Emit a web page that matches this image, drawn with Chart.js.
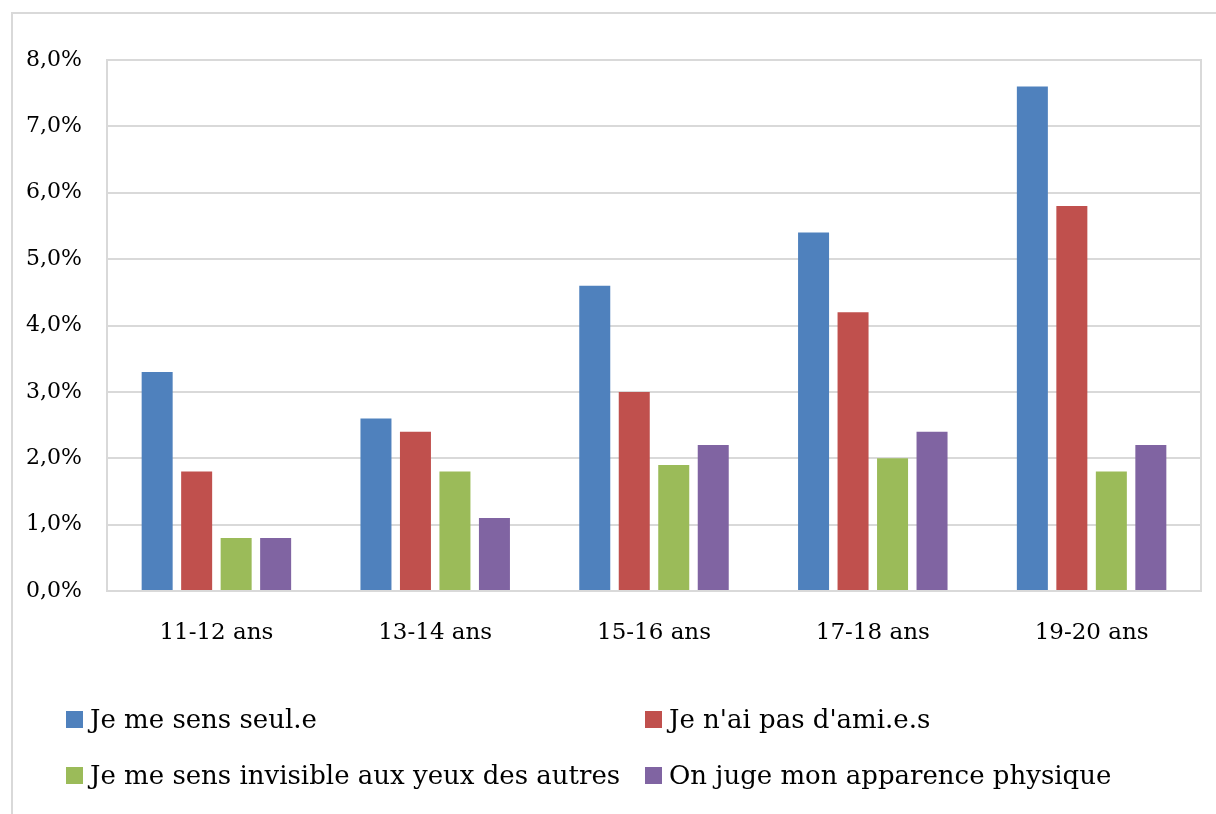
<!DOCTYPE html>
<html>
<head>
<meta charset="utf-8">
<script src="https://cdn.jsdelivr.net/npm/chart.js@4"></script>
<style>
  body { margin: 0; background: #fff; }
  #wrap { position: relative; width: 1216px; height: 814px; overflow: hidden; }
  #frame { position: absolute; left: 11px; top: 12px; width: 1300px; height: 900px;
           border-left: 2px solid #d9d9d9; border-top: 2px solid #d9d9d9; }
  #legend { position: absolute; left: 66px; top: 703px; width: 1100px;
            font-family: "DejaVu Serif", serif; font-size: 26px; color: #000; }
  .item { position: absolute; white-space: nowrap; line-height: 32px; }
  .box { display: inline-block; width: 17px; height: 17px; margin-right: 7px; vertical-align: 0px; }
</style>
</head>
<body>
<div id="wrap">
  <div id="frame"></div>
  <canvas id="chart" width="1216" height="814"></canvas>
  <div id="legend"></div>
</div>
<script>
// ---- data ----
var ageGroups  = ["11-12 ans", "13-14 ans", "15-16 ans", "17-18 ans", "19-20 ans"];
var seriesNames = [
  "Je me sens seul.e",
  "Je n'ai pas d'ami.e.s",
  "Je me sens invisible aux yeux des autres",
  "On juge mon apparence physique"
];
var seul       = [3.3, 2.6, 4.6, 5.4, 7.6];
var sansAmis   = [1.8, 2.4, 3.0, 4.2, 5.8];
var invisible  = [0.8, 1.8, 1.9, 2.0, 1.8];
var apparence  = [0.8, 1.1, 2.2, 2.4, 2.2];
var yTicks = [0, 1, 2, 3, 4, 5, 6, 7, 8];

var colors = ["#4F81BD", "#C0504D", "#9BBB59", "#8064A2"];
var gridGray = "#d9d9d9";
var font = "DejaVu Serif";

// outline of the plot area (right + top edge)
var plotBorder = {
  id: "plotBorder",
  afterDraw: function (chart) {
    var a = chart.chartArea, c = chart.ctx;
    c.save();
    c.strokeStyle = gridGray;
    c.lineWidth = 2;
    c.strokeRect(a.left, a.top, a.right - a.left, a.bottom - a.top);
    c.restore();
  }
};

var allSeries = [seul, sansAmis, invisible, apparence];
var ctx = document.getElementById("chart");
var chart = new Chart(ctx, {
  type: "bar",
  data: {
    labels: ageGroups,
    datasets: allSeries.map(function (d, i) {
      return {
        label: seriesNames[i],
        data: d,
        backgroundColor: colors[i],
        barPercentage: 0.785,
        categoryPercentage: 0.722
      };
    })
  },
  options: {
    responsive: false,
    animation: false,
    layout: { padding: { left: 12, top: 60, right: 15, bottom: 163 } },
    plugins: { legend: { display: false }, tooltip: { enabled: false } },
    scales: {
      x: {
        grid: { display: false },
        border: { color: gridGray, width: 2 },
        ticks: { color: "#000", font: { family: font, size: 23 }, padding: 20 },
        afterFit: function (s) { s.height = 60; }
      },
      y: {
        min: 0, max: 8,
        afterBuildTicks: function (s) { s.ticks = yTicks.map(function (v) { return { value: v }; }); },
        grid: { color: gridGray, lineWidth: 2, drawTicks: false },
        border: { color: gridGray, width: 2 },
        ticks: {
          color: "#000", padding: 25,
          font: { family: font, size: 22 },
          callback: function (v) { return v.toFixed(1).replace(".", ",") + "%"; }
        },
        afterFit: function (s) { s.width = 95; }
      }
    }
  },
  plugins: [plotBorder]
});

// two-column legend
var legend = document.getElementById("legend");
chart.data.datasets.forEach(function (ds, i) {
  var el = document.createElement("div");
  el.className = "item";
  el.style.left = (i % 2 ? 579 : 0) + "px";
  el.style.top = (Math.floor(i / 2) * 56) + "px";
  el.innerHTML = '<span class="box" style="background:' + ds.backgroundColor + '"></span>';
  el.appendChild(document.createTextNode(ds.label));
  legend.appendChild(el);
});
</script>
</body>
</html>
